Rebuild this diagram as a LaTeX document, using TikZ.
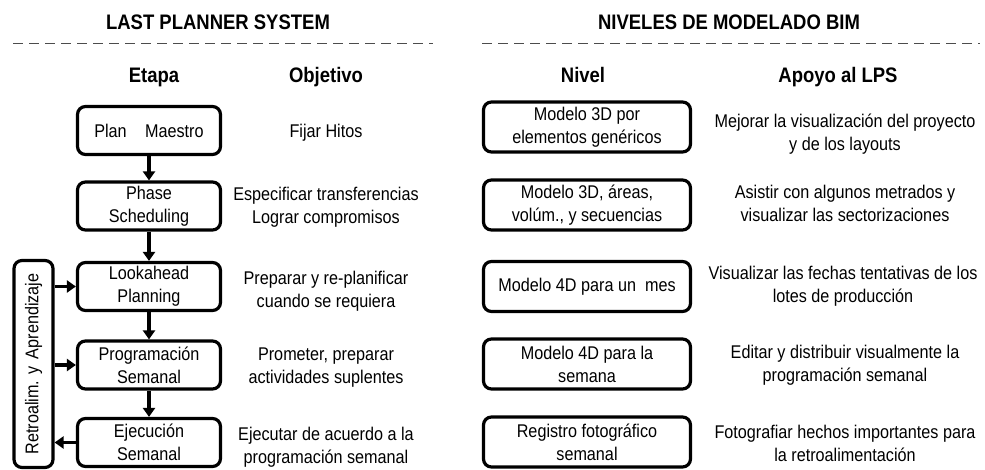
\documentclass[tikz,border=0pt]{standalone}
\usepackage{fontspec}
\setmainfont[FakeStretch=0.88]{Liberation Sans}
\usetikzlibrary{arrows.meta}

\tikzset{
  caja/.style={draw, line width=3.2pt, rounded corners=8pt, align=center,
    minimum width=143pt, minimum height=48pt, inner sep=2pt,
    font=\fontsize{18.4}{23}\selectfont},
  nivel/.style={caja, minimum width=207pt, minimum height=50pt},
  texto/.style={align=center, font=\fontsize{18.4}{23}\selectfont},
  titulo/.style={anchor=base, font=\fontsize{21}{25}\selectfont\bfseries},
  flecha/.style={line width=3.2pt, -{Triangle[length=9pt,width=12pt]}},
  linea/.style={line width=0.9pt, draw=black!70, dash pattern=on 10pt off 6pt}
}

\begin{document}
\begin{tikzpicture}[x=1pt,y=-1pt]
\useasboundingbox (0,0) rectangle (985,470);

% Last Planner

\node[titulo] (lps) at (218,30) {LAST PLANNER SYSTEM};
\draw[linea] (13,43)--(433,43);
\node[titulo] (etapa) at (154,83) {Etapa};
\node[titulo] (objetivo) at (326,83) {Objetivo};

\node[caja] (plan)  at (149,130.5) {Plan\quad Maestro};
\node[caja] (phase) at (149,206)   {Phase\\Scheduling};
\node[caja] (look)  at (149,286.5) {Lookahead\\Planning};
\node[caja] (prog)  at (149,365)   {Programación\\Semanal};
\node[caja] (ejec)  at (149,442.5) {Ejecución\\Semanal};

\node[draw, line width=3.2pt, rounded corners=8pt, minimum width=39pt,
  minimum height=207pt, inner sep=0pt, font=\fontsize{18.4}{23}\selectfont]
  (retro) at (33.5,364) {\rotatebox{90}{Retroalim. y\, Aprendizaje}};

 \draw[flecha] (plan)--(phase);
 \draw[flecha] (phase)--(look);
 \draw[flecha] (look)--(prog);
 \draw[flecha] (prog)--(ejec);
 \draw[flecha] (retro.east |- look)--(look.west);
 \draw[flecha] (retro.east |- prog)--(prog.west);
 \draw[flecha] (ejec.west)--(retro.east |- ejec);

\node[texto] (obj1) at (326,133) {Fijar Hitos};
\node[texto] (obj2) at (326,207) {Especificar transferencias\\Lograr compromisos};
\node[texto] (obj3) at (326,291) {Preparar y re-planificar\\cuando se requiera};
\node[texto] (obj4) at (326,368) {Prometer, preparar\\actividades suplentes};
\node[texto] (obj5) at (326,447) {Ejecutar de acuerdo a la\\programación semanal};

% Niveles BIM

\node[titulo] (bim) at (729,30) {NIVELES DE MODELADO BIM};
\draw[linea] (482,43)--(980,43);
\node[titulo] (niv) at (583,83) {Nivel};
\node[titulo] (apoyo) at (838,83) {Apoyo al LPS};

\node[nivel] (niv1) at (587,127)   {Modelo 3D por\\elementos genéricos};
\node[nivel] (niv2) at (587,205)   {Modelo 3D, áreas,\\volúm., y secuencias};
\node[nivel] (niv3) at (587,286.5) {Modelo 4D para un\ \ mes};
\node[nivel] (niv4) at (587,364)   {Modelo 4D para la\\semana};
\node[nivel] (niv5) at (587,442)   {Registro fotográfico\\semanal};

\node[texto] (apo1) at (845,134) {Mejorar la visualización del proyecto\\y de los layouts};
\node[texto] (apo2) at (845,203) {Asistir con algunos metrados y\\visualizar las sectorizaciones};
\node[texto] (apo3) at (843,286) {Visualizar las fechas tentativas de los\\lotes de producción};
\node[texto] (apo4) at (845,365) {Editar y distribuir visualmente la\\programación semanal};
\node[texto] (apo5) at (845,443) {Fotografiar hechos importantes para\\la retroalimentación};
\end{tikzpicture}
\end{document}
